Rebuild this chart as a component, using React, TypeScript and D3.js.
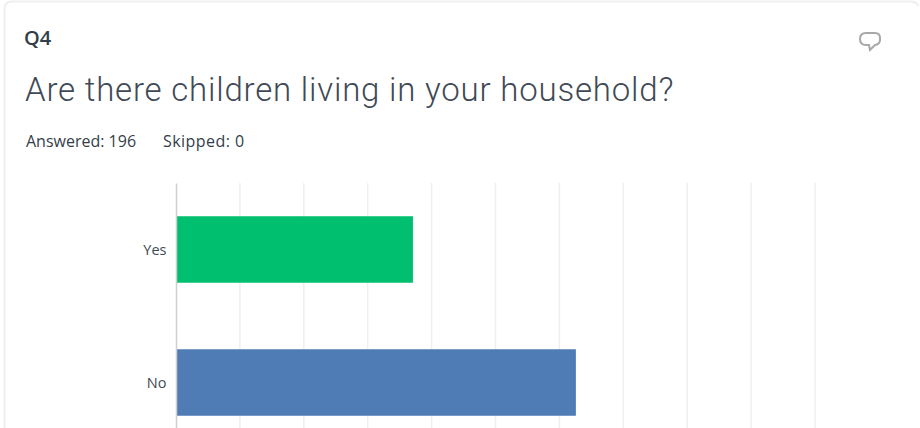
import * as d3 from 'd3';
import React, { useEffect, useRef } from 'react';

const categories = ['Yes', 'No'];
const percents = [37, 62.5];
const barColors = ['#00bf6f', '#507cb6'];
const percentTicks = [0, 10, 20, 30, 40, 50, 60, 70, 80, 90, 100];

const width = 920;
const height = 428;
const margin = { top: 183, right: 105, bottom: -21, left: 176 };

const App = () => {
  const svgRef = useRef<SVGSVGElement>(null);

  useEffect(() => {
    const svg = d3.select(svgRef.current);
    svg.selectAll('*').remove();
    svg.attr('width', width).attr('height', height);

    const font = 'Roboto, sans-serif';
    const smallFont = '"Open Sans", sans-serif';

    // Card outline, open at the bottom
    svg.append('path')
      .attr('d', 'M4.5 428V9Q4.5 1.5 12 1.5H909Q917 1.5 918.5 6')
      .attr('fill', 'none')
      .attr('stroke', '#efefef')
      .attr('stroke-width', 2);

    // Header texts
    svg.append('text')
      .attr('x', 24).attr('y', 45)
      .attr('font-family', smallFont).attr('font-size', 20).attr('font-weight', 600)
      .attr('fill', '#333e48')
      .text('Q4');
    svg.append('text')
      .attr('x', 25).attr('y', 101)
      .attr('font-family', font).attr('font-size', 33).attr('font-weight', 300)
      .attr('letter-spacing', 0.8)
      .attr('fill', '#3f4a56')
      .text('Are there children living in your household?');
    svg.append('text')
      .attr('x', 26).attr('y', 147)
      .attr('font-family', smallFont).attr('font-size', 16)
      .attr('fill', '#333e48')
      .text('Answered: 196');
    svg.append('text')
      .attr('x', 163).attr('y', 147)
      .attr('font-family', smallFont).attr('font-size', 16)
      .attr('letter-spacing', 0.45)
      .attr('fill', '#333e48')
      .text('Skipped: 0');

    // Comment bubble
    svg.append('path')
      .attr('d', 'M866 33H875Q880 33 880 38V40Q880 44 875 45L870 50L869 45H866Q860 45 860 39Q860 33 866 33Z')
      .attr('fill', 'none')
      .attr('stroke', '#a8a8a8')
      .attr('stroke-width', 2);

    // Scales
    const xScale = d3.scaleLinear()
      .domain([0, 100])
      .range([margin.left, width - margin.right]);

    const yScale = d3.scaleBand()
      .domain(categories)
      .range([margin.top, height - margin.bottom])
      .paddingInner(0.5)
      .paddingOuter(0.25);

    // Grid lines
    svg.append('g')
      .selectAll('line')
      .data(percentTicks.slice(1))
      .enter()
      .append('line')
      .attr('x1', d => xScale(d))
      .attr('x2', d => xScale(d))
      .attr('y1', margin.top)
      .attr('y2', height)
      .attr('stroke', '#efefef')
      .attr('stroke-width', 1.5);

    // Bars
    svg.append('g')
      .selectAll('rect')
      .data(categories)
      .enter()
      .append('rect')
      .attr('x', xScale(0) + 0.5)
      .attr('y', d => yScale(d))
      .attr('width', (d, i) => xScale(percents[i]) - xScale(0))
      .attr('height', yScale.bandwidth())
      .attr('fill', (d, i) => barColors[i]);

    // Category axis
    const axis = svg.append('g')
      .attr('transform', `translate(${margin.left},0)`)
      .call(d3.axisLeft(yScale).tickSize(0).tickPadding(9.5));
    axis.select('.domain').attr('stroke', '#cfcfcf').attr('stroke-width', 1.5);
    axis.selectAll('text')
      .attr('font-family', smallFont)
      .attr('font-size', 14.5)
      .attr('fill', '#404b55')
      .attr('dy', '0.4em');
  }, []);

  return <svg ref={svgRef} style={{ position: 'absolute', left: 0, top: 0 }}></svg>;
};

export default App;
